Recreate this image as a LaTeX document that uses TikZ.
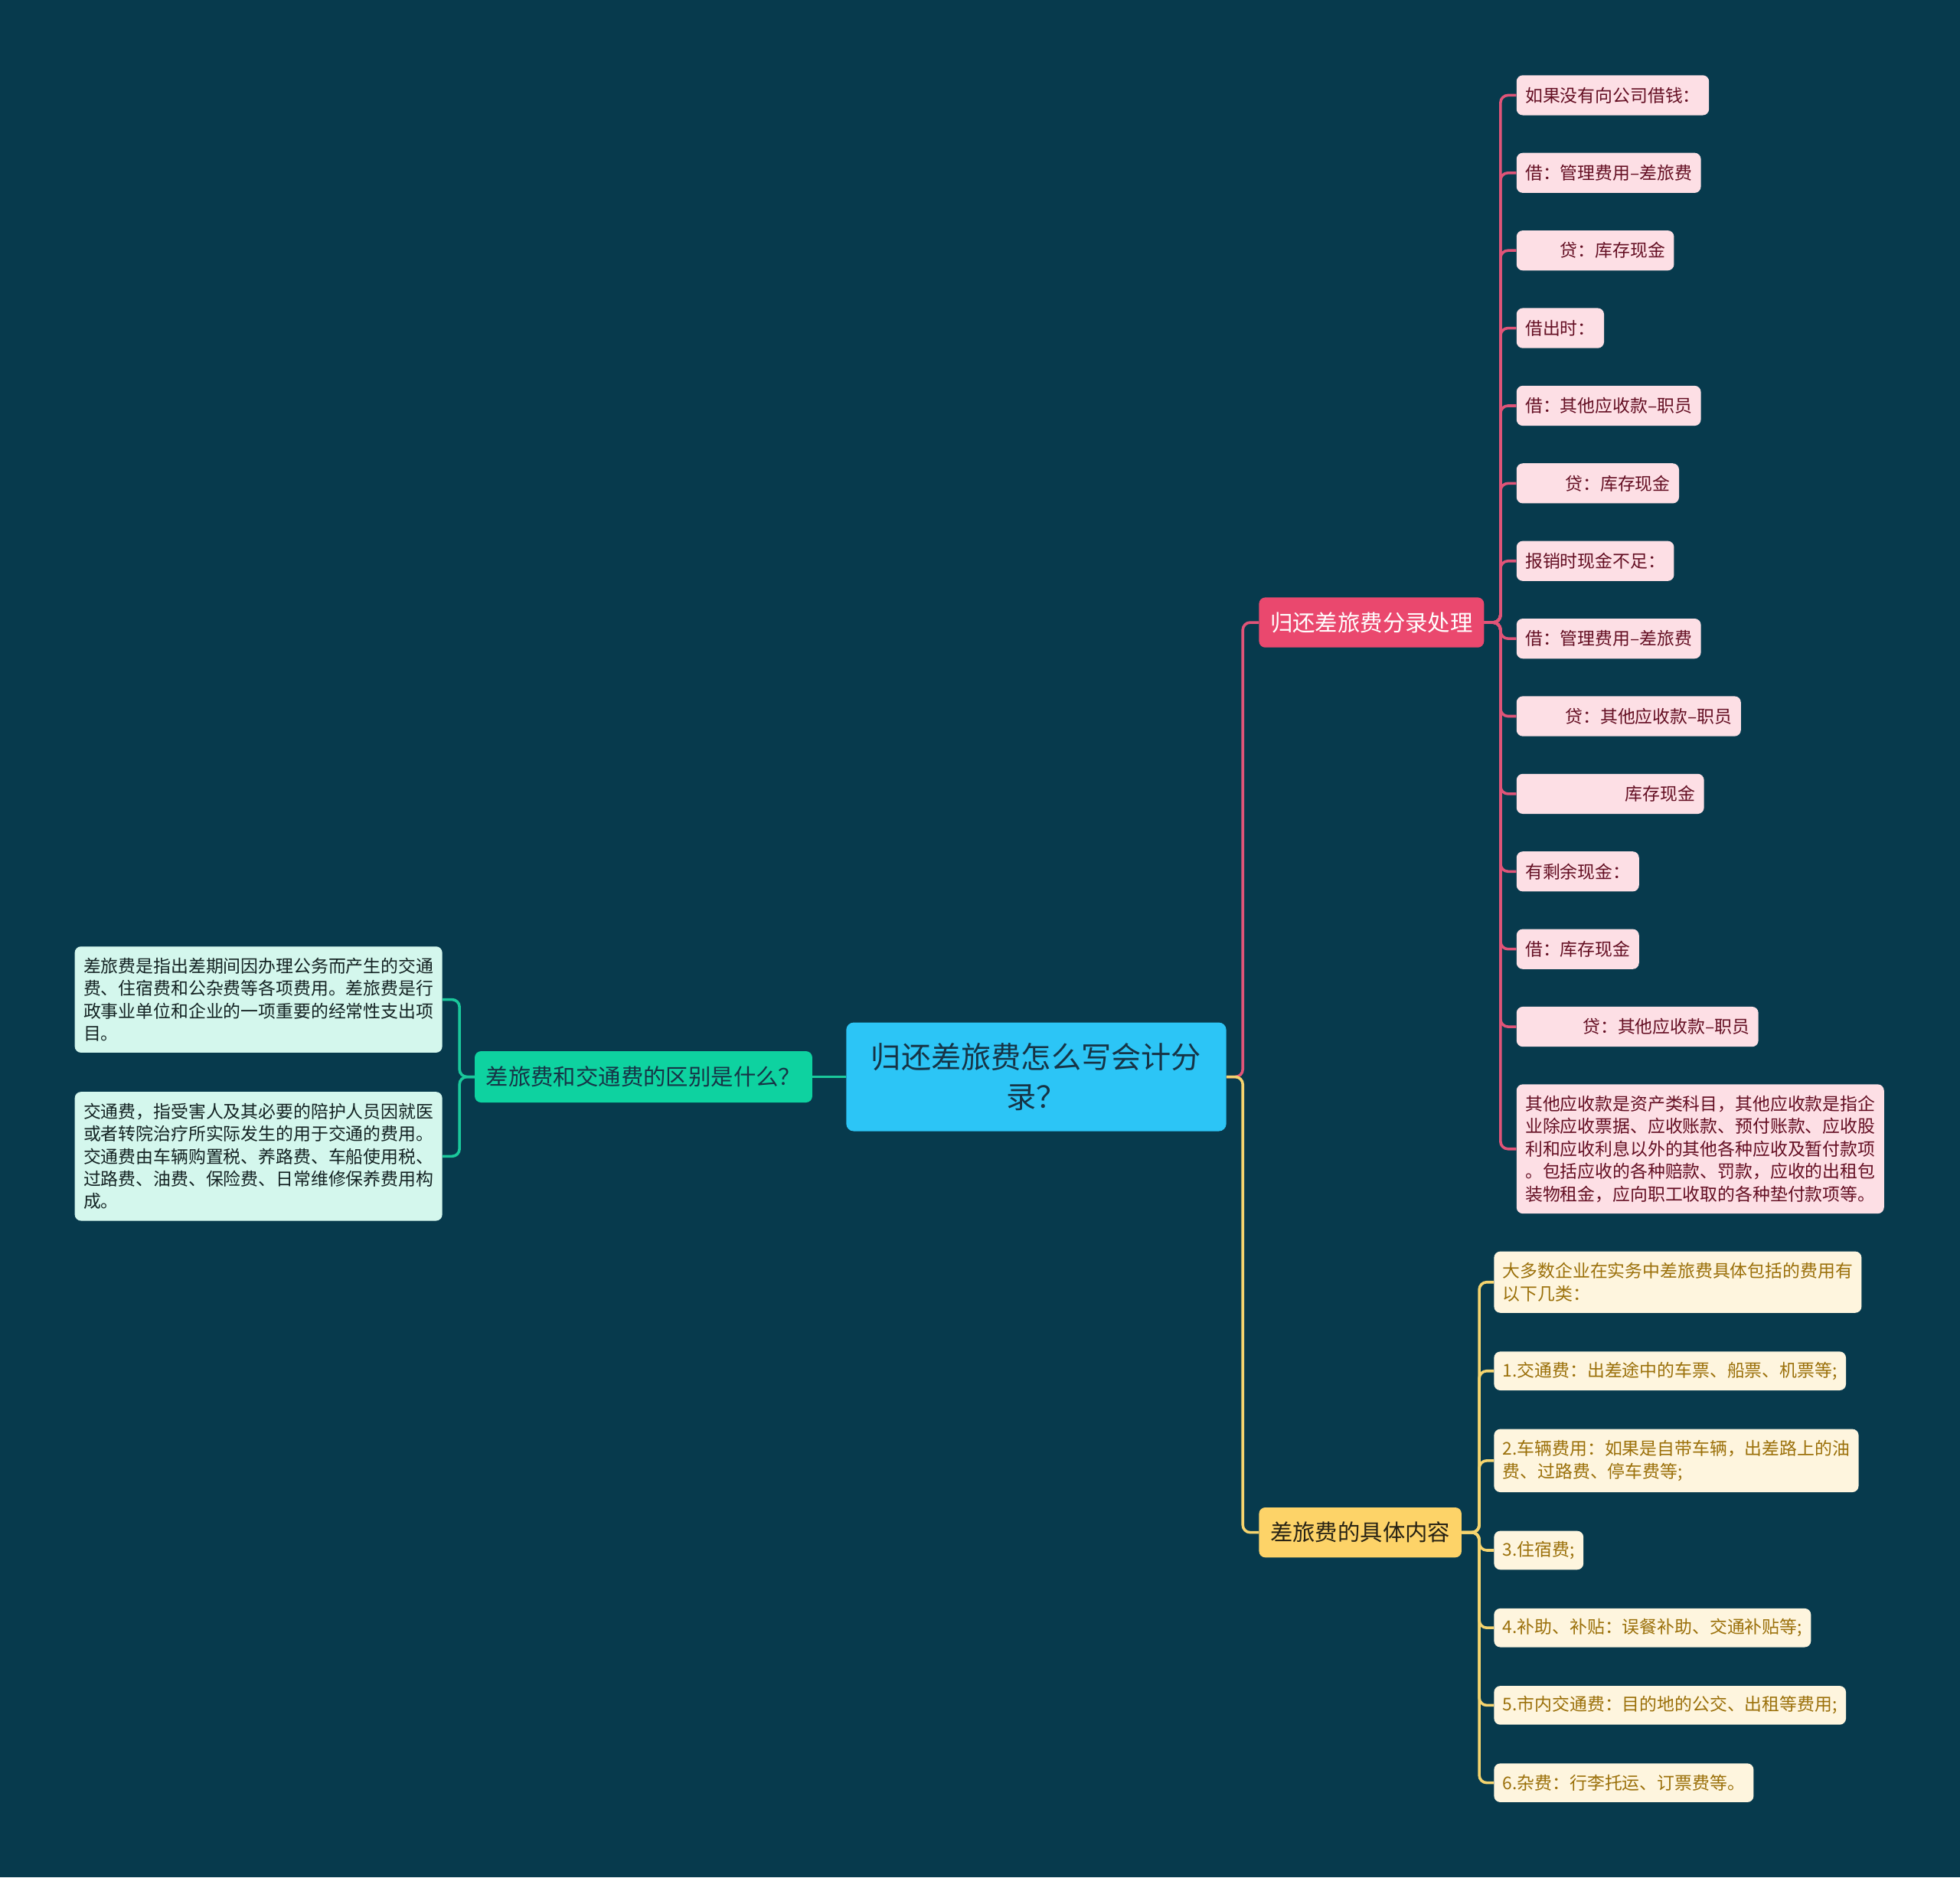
\documentclass[tikz,border=0pt]{standalone}
\usepackage{fontspec}
\setmainfont{Noto Sans CJK SC}
\usetikzlibrary{positioning}
\definecolor{bgnavy}{RGB}{7,58,77}
\definecolor{rootblue}{RGB}{44,197,246}
\definecolor{rootink}{RGB}{22,52,70}
\definecolor{tealbr}{RGB}{14,210,160}
\definecolor{tealline}{RGB}{26,200,155}
\definecolor{mintleaf}{RGB}{212,247,237}
\definecolor{mintink}{RGB}{20,35,35}
\definecolor{rosebr}{RGB}{234,72,110}
\definecolor{roseline}{RGB}{224,84,120}
\definecolor{roseleaf}{RGB}{253,223,229}
\definecolor{roseink}{RGB}{100,15,35}
\definecolor{goldbr}{RGB}{253,211,104}
\definecolor{goldline}{RGB}{245,212,110}
\definecolor{goldink}{RGB}{155,112,10}
\definecolor{goldbrink}{RGB}{40,35,20}
\definecolor{creamleaf}{RGB}{254,245,222}
\tikzset{
  box/.style={rounded corners=5pt, inner xsep=7pt, inner ysep=6pt, align=left},
  leaftext/.style={font=\fontsize{14pt}{18pt}\selectfont},
  multiline/.style={inner ysep=9pt},
  roseleafbox/.style={box, leaftext, fill=roseleaf, text=roseink, minimum height=32pt},
  goldleafbox/.style={box, leaftext, fill=creamleaf, text=goldink, minimum height=31pt},
  mintleafbox/.style={box, leaftext, fill=mintleaf, text=mintink, multiline},
  branchbox/.style={rounded corners=5pt, inner xsep=9pt, minimum height=40pt, font=\fontsize{18pt}{22pt}\selectfont},
  roseline/.style={draw=roseline, line width=2.2pt, rounded corners=6pt},
  goldline/.style={draw=goldline, line width=2.2pt, rounded corners=6pt},
  tealline/.style={draw=tealline, line width=2.2pt, rounded corners=6pt}
}

\begin{document}
\begin{tikzpicture}[x=1pt, y=-1pt, node distance=30pt]
    \fill[bgnavy] (0,0) rectangle (1568,1502);

    % centre
    \node[fill=rootblue, text=rootink, rounded corners=6pt, minimum width=304pt, minimum height=87pt,
      align=center, font=\fontsize{24pt}{32pt}\selectfont] (root) at (829,861.5) {归还差旅费怎么写会计分\\录？};

    % branches
    \node[branchbox, fill=rosebr, text=white, anchor=west] (entries) at (1007,498) {归还差旅费分录处理};
    \node[branchbox, fill=goldbr, text=goldbrink, anchor=west] (content) at (1007,1226) {差旅费的具体内容};
    \node[branchbox, fill=tealbr, text=rootink, minimum height=41pt, anchor=east] (diff) at (650,861.5) {差旅费和交通费的区别是什么？};

    % accounting entries
    \node[roseleafbox, anchor=north west] (e1) at (1213,60) {如果没有向公司借钱：};
    \node[roseleafbox, below=29.7pt of e1.south west, anchor=north west] (e2) {借：管理费用–差旅费};
    \node[roseleafbox, below=29.7pt of e2.south west, anchor=north west] (e3) {\hspace*{28pt}贷：库存现金};
    \node[roseleafbox, below=29.7pt of e3.south west, anchor=north west] (e4) {借出时：};
    \node[roseleafbox, below=29.7pt of e4.south west, anchor=north west] (e5) {借：其他应收款–职员};
    \node[roseleafbox, below=29.7pt of e5.south west, anchor=north west] (e6) {\hspace*{32pt}贷：库存现金};
    \node[roseleafbox, below=29.7pt of e6.south west, anchor=north west] (e7) {报销时现金不足：};
    \node[roseleafbox, below=29.7pt of e7.south west, anchor=north west] (e8) {借：管理费用–差旅费};
    \node[roseleafbox, below=29.7pt of e8.south west, anchor=north west] (e9) {\hspace*{32pt}贷：其他应收款–职员};
    \node[roseleafbox, below=29.7pt of e9.south west, anchor=north west] (e10) {\hspace*{80pt}库存现金};
    \node[roseleafbox, below=29.7pt of e10.south west, anchor=north west] (e11) {有剩余现金：};
    \node[roseleafbox, below=29.7pt of e11.south west, anchor=north west] (e12) {借：库存现金};
    \node[roseleafbox, below=29.7pt of e12.south west, anchor=north west] (e13) {\hspace*{46pt}贷：其他应收款–职员};
    \node[roseleafbox, multiline, below=29.7pt of e13.south west, anchor=north west] (e14) {其他应收款是资产类科目，其他应收款是指企\\业除应收票据、应收账款、预付账款、应收股\\利和应收利息以外的其他各种应收及暂付款项\\。包括应收的各种赔款、罚款，应收的出租包\\装物租金，应向职工收取的各种垫付款项等。};

    % expense items
    \node[goldleafbox, multiline, anchor=north west] (c1) at (1195,1001) {大多数企业在实务中差旅费具体包括的费用有\\以下几类：};
    \node[goldleafbox, below=30.6pt of c1.south west, anchor=north west] (c2) {1.交通费：出差途中的车票、船票、机票等;};
    \node[goldleafbox, multiline, below=30.6pt of c2.south west, anchor=north west] (c3) {2.车辆费用：如果是自带车辆，出差路上的油\\费、过路费、停车费等;};
    \node[goldleafbox, below=30.6pt of c3.south west, anchor=north west] (c4) {3.住宿费;};
    \node[goldleafbox, below=30.6pt of c4.south west, anchor=north west] (c5) {4.补助、补贴：误餐补助、交通补贴等;};
    \node[goldleafbox, below=30.6pt of c5.south west, anchor=north west] (c6) {5.市内交通费：目的地的公交、出租等费用;};
    \node[goldleafbox, below=30.6pt of c6.south west, anchor=north west] (c7) {6.杂费：行李托运、订票费等。};

    % definitions
    \node[mintleafbox, anchor=north east] (d1) at (354,757) {差旅费是指出差期间因办理公务而产生的交通\\费、住宿费和公杂费等各项费用。差旅费是行\\政事业单位和企业的一项重要的经常性支出项\\目。};
    \node[mintleafbox, below=31pt of d1.south east, anchor=north east] (d2) {交通费，指受害人及其必要的陪护人员因就医\\或者转院治疗所实际发生的用于交通的费用。\\交通费由车辆购置税、养路费、车船使用税、\\过路费、油费、保险费、日常维修保养费用构\\成。};

    % connectors
    \draw[roseline] (root.east) -- ++(13,0) |- (entries.west);
    \draw[goldline] (root.east) -- ++(13,0) |- (content.west);
    \draw[tealline] (root.west) -- (diff.east);

    \draw[roseline] (entries.east) -- ++(13,0) |- (e1.west);
    \draw[roseline] (entries.east) -- ++(13,0) |- (e2.west);
    \draw[roseline] (entries.east) -- ++(13,0) |- (e3.west);
    \draw[roseline] (entries.east) -- ++(13,0) |- (e4.west);
    \draw[roseline] (entries.east) -- ++(13,0) |- (e5.west);
    \draw[roseline] (entries.east) -- ++(13,0) |- (e6.west);
    \draw[roseline] (entries.east) -- ++(13,0) |- (e7.west);
    \draw[roseline] (entries.east) -- ++(13,0) |- (e8.west);
    \draw[roseline] (entries.east) -- ++(13,0) |- (e9.west);
    \draw[roseline] (entries.east) -- ++(13,0) |- (e10.west);
    \draw[roseline] (entries.east) -- ++(13,0) |- (e11.west);
    \draw[roseline] (entries.east) -- ++(13,0) |- (e12.west);
    \draw[roseline] (entries.east) -- ++(13,0) |- (e13.west);
    \draw[roseline] (entries.east) -- ++(13,0) |- (e14.west);

    \draw[goldline] (content.east) -- ++(14,0) |- (c1.west);
    \draw[goldline] (content.east) -- ++(14,0) |- (c2.west);
    \draw[goldline] (content.east) -- ++(14,0) |- (c3.west);
    \draw[goldline] (content.east) -- ++(14,0) |- (c4.west);
    \draw[goldline] (content.east) -- ++(14,0) |- (c5.west);
    \draw[goldline] (content.east) -- ++(14,0) |- (c6.west);
    \draw[goldline] (content.east) -- ++(14,0) |- (c7.west);

    \draw[tealline] (diff.west) -- ++(-12,0) |- (d1.east);
    \draw[tealline] (diff.west) -- ++(-12,0) |- (d2.east);
\end{tikzpicture}
\end{document}
